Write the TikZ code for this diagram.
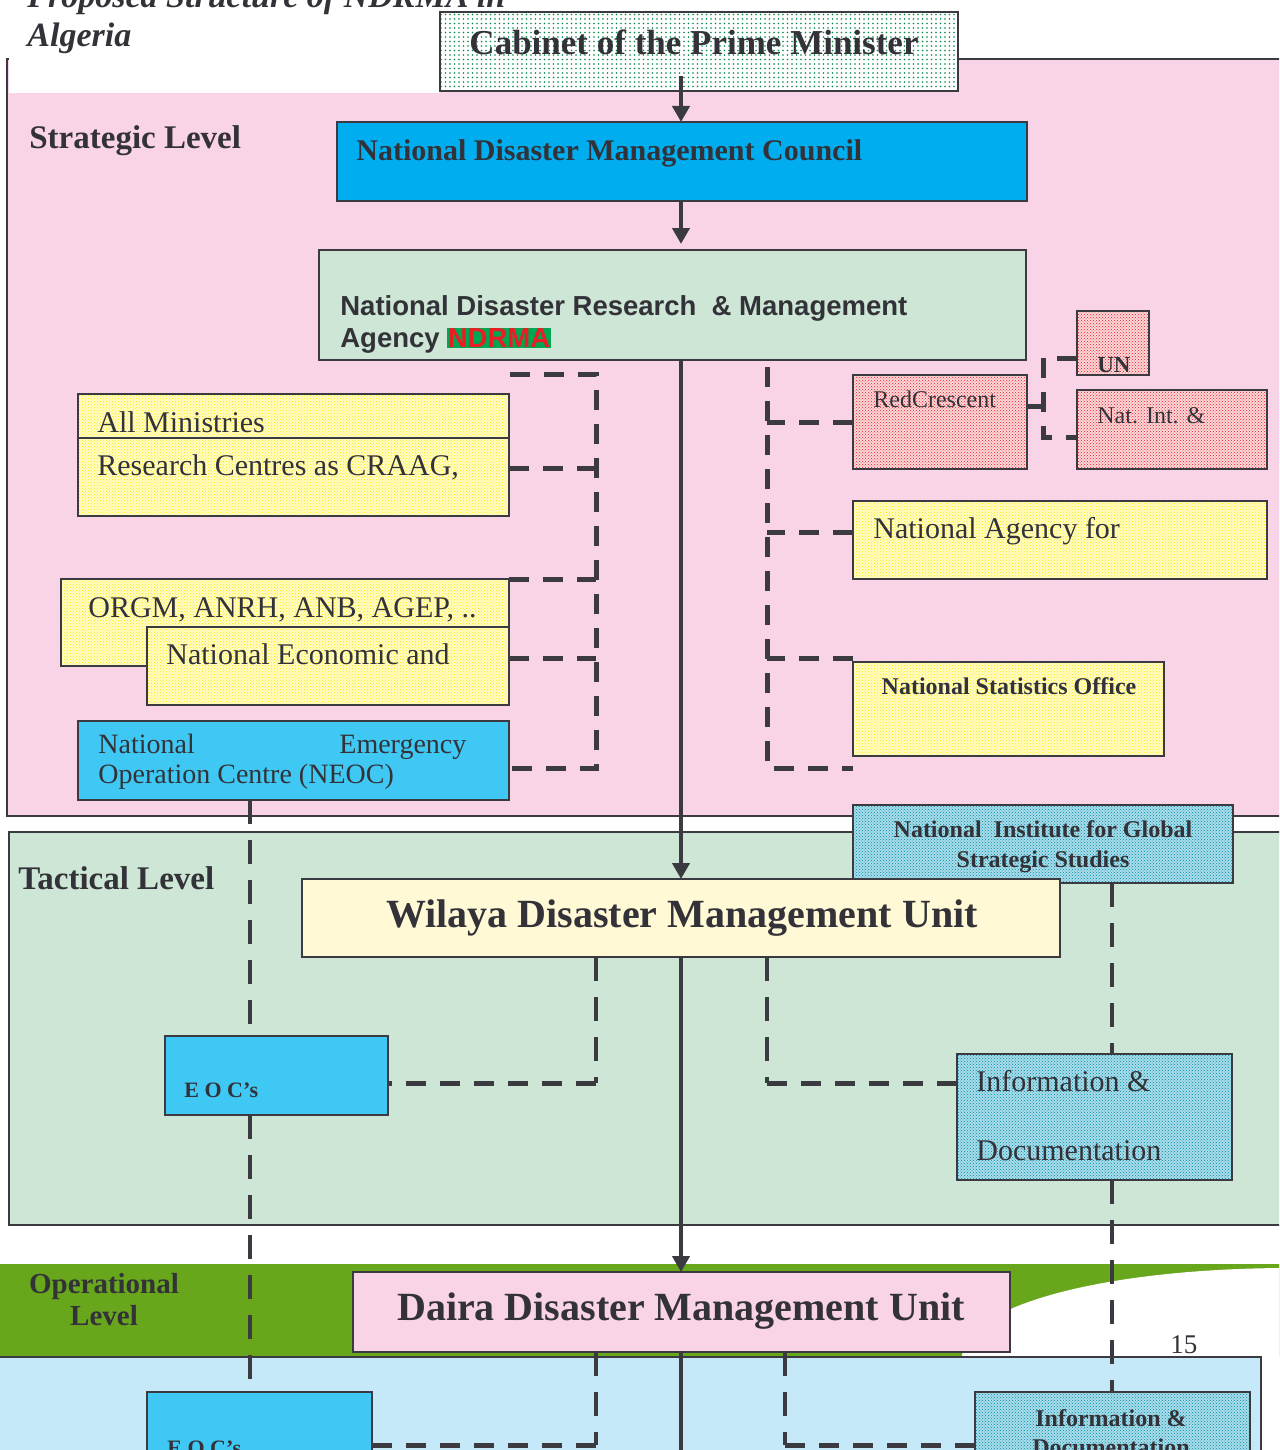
\documentclass[tikz,border=0pt]{standalone}
\usepackage{fontspec}
\setmainfont{Liberation Serif}
\newfontfamily\arialfont{Liberation Sans}
\usetikzlibrary{arrows.meta,patterns,calc}

\definecolor{linec}{RGB}{58,58,64}
\definecolor{textc}{RGB}{50,50,56}
\definecolor{pinkbg}{RGB}{249,212,230}
\definecolor{tacgreen}{RGB}{205,230,213}
\definecolor{opgreen}{RGB}{104,166,28}
\definecolor{lightblue}{RGB}{197,233,248}
\definecolor{ndmcblue}{RGB}{0,174,239}
\definecolor{eocblue}{RGB}{64,200,244}
\definecolor{cream}{RGB}{255,249,214}
\definecolor{hlgreen}{RGB}{0,166,81}
\definecolor{ndrmared}{RGB}{237,28,36}
\definecolor{yellowbase}{RGB}{255,252,200}
\definecolor{yellowdot}{RGB}{255,236,0}
\definecolor{redbase}{RGB}{252,215,218}
\definecolor{reddot}{RGB}{237,28,36}
\definecolor{tealbase}{RGB}{170,220,232}
\definecolor{tealdot}{RGB}{0,140,175}
\definecolor{cabdot}{RGB}{0,140,70}

\newcommand{\fsz}[2]{\fontsize{#1}{#2}\selectfont}

\pgfdeclarepatternformonly{bigdots}{\pgfqpoint{-1pt}{-1pt}}{\pgfqpoint{1pt}{1pt}}{\pgfqpoint{4.5pt}{4.5pt}}{%
  \pgfpathcircle{\pgfqpoint{0pt}{0pt}}{0.9pt}\pgfusepath{fill}}

\tikzset{every picture/.style={line width=0.75pt}}
\tikzset{
  box/.style={draw=linec, line width=2pt, anchor=north west, inner sep=0pt, outer sep=0pt},
  yellowbox/.style={box, preaction={fill=yellowbase}, pattern=crosshatch dots, pattern color=yellowdot},
  redbox/.style={box, preaction={fill=redbase}, pattern=crosshatch dots, pattern color=reddot},
  tealbox/.style={box, preaction={fill=tealbase}, pattern=crosshatch dots, pattern color=tealdot},
  lbl/.style={anchor=base west, inner sep=0pt, text=textc, align=left},
  clbl/.style={anchor=base, inner sep=0pt, text=textc, align=center},
  arrowline/.style={draw=linec, line width=4.5pt, -{Triangle[length=16pt,width=17pt]}},
  solidline/.style={draw=linec, line width=4.5pt},
  dashh/.style={draw=linec, line width=5pt, dash pattern=on 20pt off 14pt},
  dashv/.style={draw=linec, line width=3.5pt, dash pattern=on 24pt off 16pt},
}

\begin{document}
\begin{tikzpicture}[x=1pt,y=1pt,yscale=-1]
\useasboundingbox (0,0) rectangle (1279,1450);
\clip (0,0) rectangle (1279,1450);

%Shape: Rectangle (strategic level)
\fill[pinkbg] (7,59) rectangle (1300,816);
\draw[linec, line width=2pt] (1300,59) -- (7,59) -- (7,816) -- (1300,816);
%Shape: Rectangle (title box)
\fill[white] (9,-5) rectangle (440,93);
%Shape: Rectangle (tactical level)
\fill[tacgreen] (9,832) rectangle (1300,1225);
\draw[linec, line width=2pt] (1300,832) -- (9,832) -- (9,1225) -- (1300,1225);
%Shape: Band (operational level)
\fill[opgreen] (-5,1264) rectangle (1300,1357);
\fill[white] (962,1357) .. controls (962,1306) and (1104,1268) .. (1290,1268) -- (1290,1357) -- cycle;
%Shape: Rectangle (bottom)
\fill[lightblue] (-5,1357) rectangle (1261,1470);
\draw[linec, line width=1.5pt] (-5,1357) -- (1261,1357) -- (1261,1470);

% Text Node
\node[lbl, font=\fsz{34}{39}\bfseries\itshape] (title) at (27,47) {Proposed Structure of NDRMA in\\Algeria};
% Text Node
\node[lbl, font=\fsz{33}{40}\bfseries] (strategic) at (29,149) {Strategic Level};
% Text Node
\node[lbl, font=\fsz{33}{40}\bfseries] (tactical) at (18,889) {Tactical Level};
% Text Node
\node[clbl, font=\fsz{29}{32}\bfseries] (operational) at (104,1325) {Operational\\Level};
% Text Node
\node[lbl, font=\fsz{27}{30}] (pageno) at (1170,1353) {15};

%Shape: Rectangle
\node[box, preaction={fill=white}, pattern=bigdots, pattern color=cabdot, minimum width=518pt, minimum height=79pt] (cabinet) at (440,12) {};
\node[clbl, font=\fsz{35}{40}\bfseries] (cabinet-t) at (694,55) {Cabinet of the Prime Minister};
%Shape: Rectangle
\node[box, fill=ndmcblue, minimum width=690pt, minimum height=79pt] (ndmc) at (337,122) {};
\node[lbl, font=\fsz{30}{36}\bfseries] (ndmc-t) at (356,161) {National Disaster Management Council};
%Shape: Rectangle
\node[box, fill=tacgreen, minimum width=707pt, minimum height=110pt] (ndrma) at (319,250) {};
\node[lbl, font=\arialfont\bfseries\fsz{27.5}{32}] (ndrma-t) at (340,347) {National Disaster Research~~\& Management\\Agency {\setlength{\fboxsep}{0.5pt}\colorbox{hlgreen}{\color{ndrmared}NDRMA}}};

%Shape: Rectangle
\node[yellowbox, minimum width=431pt, minimum height=44pt] (allmin) at (78,394) {};
\node[lbl, font=\fsz{30}{36}] (allmin-t) at (97,432) {All Ministries};
%Shape: Rectangle
\node[yellowbox, minimum width=431pt, minimum height=78pt] (research) at (78,438) {};
\node[lbl, font=\fsz{30}{36}] (research-t) at (97,475) {Research Centres as CRAAG,};
%Shape: Rectangle
\node[yellowbox, minimum width=448pt, minimum height=87pt] (orgm) at (61,579) {};
\node[lbl, font=\fsz{30}{36}] (orgm-t) at (88,617) {ORGM, ANRH, ANB, AGEP, ..};
%Shape: Rectangle
\node[yellowbox, minimum width=362pt, minimum height=78pt] (natecon) at (147,627) {};
\node[lbl, font=\fsz{30}{36}] (natecon-t) at (166,664) {National Economic and};
%Shape: Rectangle
\node[box, fill=eocblue, minimum width=431pt, minimum height=79pt] (neoc) at (78,721) {};
\node[lbl, font=\fsz{28}{30}] (neoc-t) at (98,783) {\makebox[368pt][l]{National\hfill Emergency}\\Operation Centre~(NEOC)};

%Shape: Rectangle
\node[redbox, minimum width=174pt, minimum height=94pt] (redcres) at (853,375) {};
\node[lbl, font=\fsz{24}{28}] (redcres-t) at (873,407) {RedCrescent};
%Shape: Rectangle
\node[redbox, minimum width=72pt, minimum height=64pt] (un) at (1077,311) {};
\node[lbl, font=\fsz{23}{28}\bfseries] (un-t) at (1097,372) {UN};
%Shape: Rectangle
\node[redbox, minimum width=190pt, minimum height=79pt] (natint) at (1077,390) {};
\node[lbl, font=\fsz{24}{28}] (natint-t) at (1097,423) {Nat. Int. \&};
%Shape: Rectangle
\node[yellowbox, minimum width=414pt, minimum height=78pt] (natagency) at (853,501) {};
\node[lbl, font=\fsz{30}{36}] (natagency-t) at (873,538) {National Agency for};
%Shape: Rectangle
\node[yellowbox, minimum width=311pt, minimum height=94pt] (nso) at (853,662) {};
\node[clbl, font=\fsz{24}{28}\bfseries] (nso-t) at (1009,694) {National Statistics Office};
%Shape: Rectangle
\node[tealbox, minimum width=380pt, minimum height=78pt] (nigss) at (853,805) {};
\node[clbl, font=\fsz{24}{30}\bfseries] (nigss-t) at (1043,867) {National~ Institute for Global\\Strategic Studies};

%Shape: Rectangle
\node[box, fill=cream, minimum width=758pt, minimum height=78pt] (wilaya) at (302,879) {};
\node[clbl, font=\fsz{40}{46}\bfseries] (wilaya-t) at (682,927) {Wilaya Disaster Management Unit};
%Shape: Rectangle
\node[box, fill=eocblue, minimum width=223pt, minimum height=79pt] (eoc) at (165,1036) {};
\node[lbl, font=\fsz{22}{26}\bfseries] (eoc-t) at (184,1097) {E O C’s};
%Shape: Rectangle
\node[tealbox, minimum width=275pt, minimum height=126pt] (info) at (957,1054) {};
\node[lbl, font=\fsz{30}{69}] (info-t) at (976,1160) {Information \&\\Documentation};

%Shape: Rectangle
\node[box, fill=pinkbg, minimum width=657pt, minimum height=80pt] (daira) at (353,1272) {};
\node[clbl, font=\fsz{40}{46}\bfseries] (daira-t) at (681,1320) {Daira Disaster Management Unit};
%Shape: Rectangle
\node[box, fill=eocblue, minimum width=225pt, minimum height=80pt] (eocb) at (147,1392) {};
\node[lbl, font=\fsz{22}{26}\bfseries] (eocb-t) at (167,1455) {E O C’s};
%Shape: Rectangle
\node[tealbox, minimum width=275pt, minimum height=80pt] (infob) at (975,1392) {};
\node[clbl, font=\fsz{24}{29}\bfseries] (infob-t) at (1111,1455) {Information \&\\Documentation};

% connector columns
\coordinate (spine) at (681,0);
\coordinate (leftv) at (250,0);
\coordinate (midl) at (596,0);
\coordinate (midr) at (767,0);
\coordinate (botr) at (785,0);
\coordinate (rightv) at (1112,0);
\coordinate (rcjoin) at (1043,0);
\coordinate (lstub) at (510,374);
\coordinate (rbot) at (853,768);
\coordinate (bottomend) at (681,1470);

%Straight Lines (main spine)
\draw[arrowline] ($(cabinet.south -| spine)+(0,-15)$) -- (ndmc.north -| spine);
\draw[arrowline] (ndmc.south -| spine) -- ($(ndrma.north -| spine)+(0,-6)$);
\draw[arrowline] (ndrma.south -| spine) -- (wilaya.north -| spine);
\draw[arrowline] (wilaya.south -| spine) -- (daira.north -| spine);
\draw[solidline] (daira.south -| spine) -- (bottomend);

%Dashed Lines (strategic, left)
\draw[dashh] (lstub) -| ($(neoc.east -| midl)+(0,7.5)$) -- ($(neoc.east)+(0,7.5)$);
\draw[dashh] ($(research.east)+(0,-8.5)$) -- ($(research.east -| midl)+(0,-8.5)$);
\draw[dashh] (orgm.north east) -- (orgm.north east -| midl);
\draw[dashh] ($(natecon.east)+(0,-8)$) -- ($(natecon.east -| midl)+(0,-8)$);

%Dashed Lines (strategic, right)
\draw[dashh] ($(ndrma.south -| midr)+(0,7)$) |- (rbot);
\draw[dashh] (redcres.west) -- (redcres.west -| midr);
\draw[dashh] ($(natagency.west)+(0,-8)$) -- ($(natagency.west -| midr)+(0,-8)$);
\draw[dashh] ($(nso.north west)+(0,-4)$) -- ($(nso.north west -| midr)+(0,-4)$);
\draw[dashh] ($(redcres.east)+(0,-16)$) -- ($(redcres.east -| rcjoin)+(0,-16)$);
\draw[dashh] ($(un.west)+(0,15)$) -| ($(natint.west -| rcjoin)+(0,7.5)$) -- ($(natint.west)+(0,7.5)$);

%Dashed Lines (tactical)
\draw[dashv] (neoc.south -| leftv) -- (eoc.north -| leftv);
\draw[dashv] (eoc.south -| leftv) -- (eocb.north -| leftv);
\draw[dashv] (nigss.south -| rightv) -- (info.north -| rightv);
\draw[dashv] (info.south -| rightv) -- (infob.north -| rightv);
\draw[dashv] (wilaya.south -| midl) -- ($(eoc.east -| midl)+(0,7.5)$);
\draw[dashh] ($(eoc.east -| midl)+(0,7.5)$) -- ($(eoc.east)+(0,7.5)$);
\draw[dashv] (wilaya.south -| midr) -- ($(info.west -| midr)+(0,-34)$);
\draw[dashh] ($(info.west -| midr)+(0,-34)$) -- ($(info.west)+(0,-34)$);

%Dashed Lines (operational)
\draw[dashv] (daira.south -| midl) -- ($(eocb.east -| midl)+(0,13)$);
\draw[dashh] ($(eocb.east -| midl)+(0,13)$) -- ($(eocb.east)+(0,13)$);
\draw[dashv] (daira.south -| botr) -- ($(infob.west -| botr)+(0,13)$);
\draw[dashh] ($(infob.west -| botr)+(0,13)$) -- ($(infob.west)+(0,13)$);

\end{tikzpicture}
\end{document}
